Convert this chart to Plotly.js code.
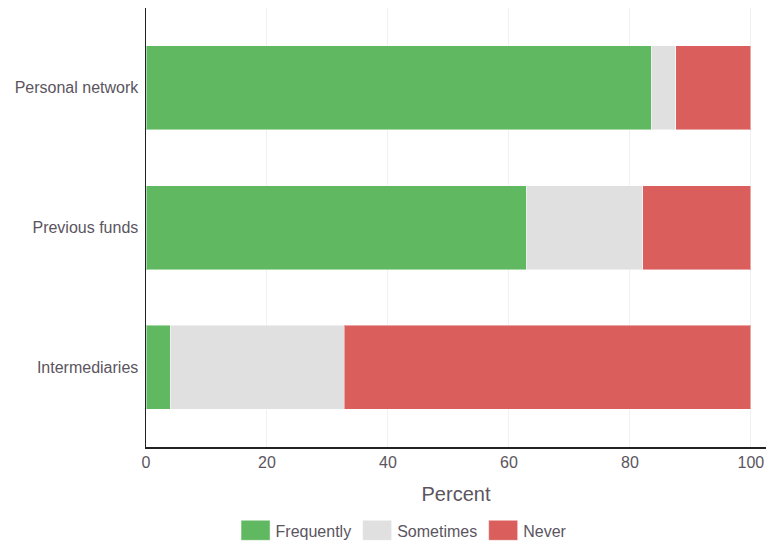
<!DOCTYPE html>
<html>
<head>
<meta charset="utf-8">
<script src="https://cdn.plot.ly/plotly-3.0.1.min.js"></script>
<style>html,body{margin:0;padding:0;background:#fff;}#chart{width:767px;height:544px;}</style>
</head>
<body>
<div id="chart"></div>
<script>
var categories = ["Personal network", "Previous funds", "Intermediaries"];
var frequently = [83.5, 62.9, 4.0];
var sometimes = [4.1, 19.2, 28.8];
var never = [12.4, 17.9, 67.2];
var seriesNames = ["Frequently", "Sometimes", "Never"];
var xTicks = [0, 20, 40, 60, 80, 100];

var colors = ["#60b860", "#e0e0e0", "#d95e5c"];
var values = [frequently, sometimes, never];
var font = "Arial, 'Liberation Sans', sans-serif";
var textColor = "#5b5560";

var traces = values.map(function (v, i) {
  return {
    type: "bar",
    orientation: "h",
    name: seriesNames[i],
    y: categories,
    x: v,
    marker: { color: colors[i], line: { color: "rgba(255,255,255,0.45)", width: 1 } },
    hoverinfo: "x+name"
  };
});

var layout = {
  width: 767,
  height: 544,
  barmode: "stack",
  bargap: 0.4,
  margin: { l: 146, r: 1, t: 8, b: 97 },
  paper_bgcolor: "#fff",
  plot_bgcolor: "#fff",
  font: { family: font, color: textColor, size: 16 },
  xaxis: {
    range: [0, 102.5],
    tickvals: xTicks,
    ticktext: xTicks.map(String),
    showgrid: true,
    gridcolor: "#f0f0f0",
    zeroline: false,
    showline: true,
    linecolor: "#222",
    linewidth: 1.5,
    ticks: "",
    ticklen: 0,
    tickfont: { size: 16, color: textColor },
    title: { text: "Percent", font: { size: 20, color: textColor }, standoff: 17 }
  },
  yaxis: {
    autorange: false,
    range: [2.568, -0.568],
    type: "category",
    showgrid: false,
    zeroline: false,
    showline: true,
    linecolor: "#222",
    linewidth: 1.5,
    ticks: "",
    ticklabelstandoff: 3,
    tickfont: { size: 16, color: textColor }
  },
  legend: {
    orientation: "h",
    x: 0.5255,
    xanchor: "center",
    xref: "container",
    y: 0.025,
    yanchor: "middle",
    yref: "container",
    font: { size: 16, color: textColor },
    itemwidth: 31,
    traceorder: "normal"
  },
  showlegend: true
};

Plotly.newPlot("chart", traces, layout, { displayModeBar: false, staticPlot: true }).then(function () {
  var paths = document.querySelectorAll("#chart .legend .legendpoints path");
  paths.forEach(function (p) {
    p.setAttribute("d", "M-14,-10H15V10H-14Z");
  });
});
</script>
</body>
</html>
